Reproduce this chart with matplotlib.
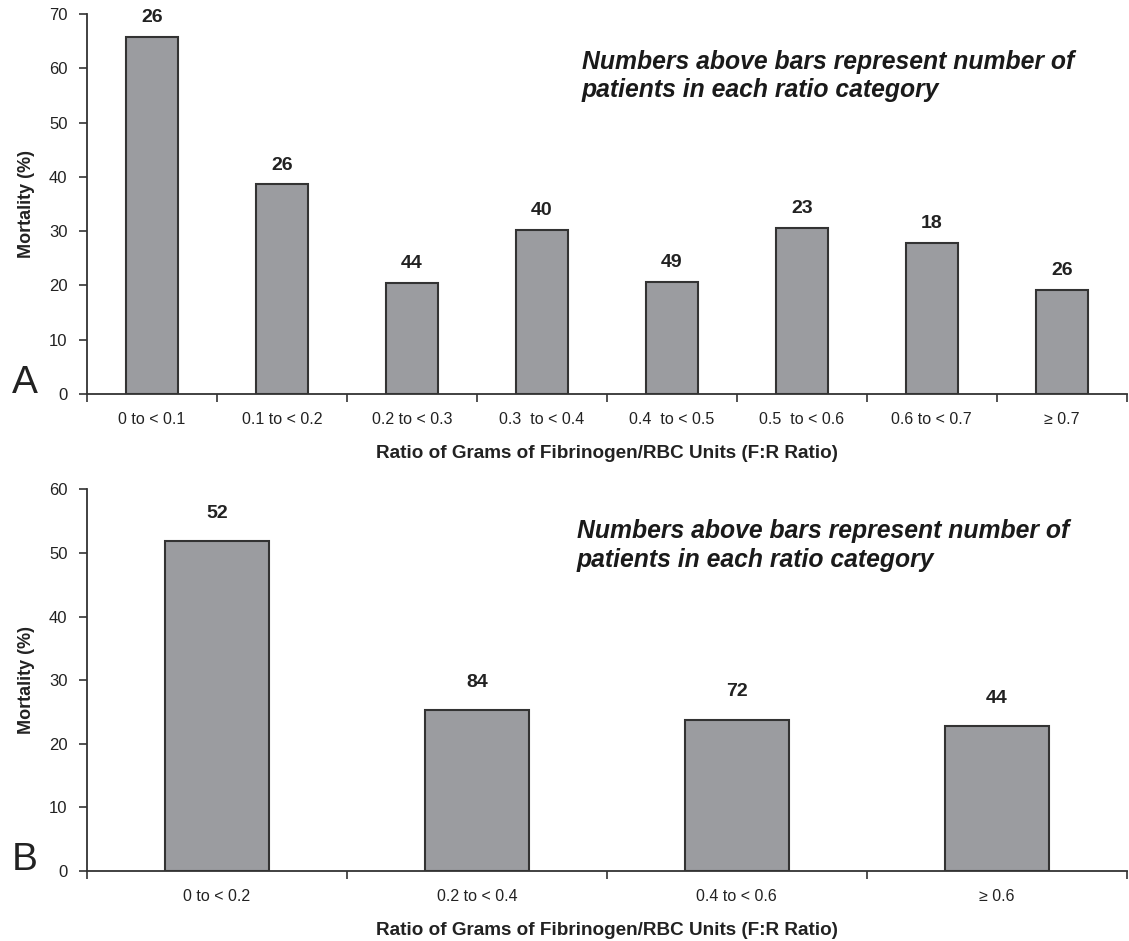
import matplotlib.pyplot as plt

plt.rcParams['font.family'] = ['Liberation Sans', 'DejaVu Sans']

# panel A: F:R ratio in steps of 0.1
labels_a = ['0 to < 0.1', '0.1 to < 0.2', '0.2 to < 0.3', '0.3  to < 0.4',
            '0.4  to < 0.5', '0.5  to < 0.6', '0.6 to < 0.7', '\u2265 0.7']
mortality_a = [65.7, 38.6, 20.5, 30.2, 20.6, 30.5, 27.9, 19.2]
patients_a = [26, 26, 44, 40, 49, 23, 18, 26]

# panel B: F:R ratio in steps of 0.2
labels_b = ['0 to < 0.2', '0.2 to < 0.4', '0.4 to < 0.6', '\u2265 0.6']
mortality_b = [51.9, 25.3, 23.8, 22.8]
patients_b = [52, 84, 72, 44]

bar_color = '#9b9ca0'
edge_color = '#333333'
note = 'Numbers above bars represent number of\npatients in each ratio category'
xlab = 'Ratio of Grams of Fibrinogen/RBC Units (F:R Ratio)'

fig = plt.figure(figsize=(11.29, 9.41), dpi=100)
ax_a = fig.add_axes([0.0771, 0.5813, 0.9209, 0.4038])
ax_b = fig.add_axes([0.0771, 0.0744, 0.9209, 0.4056])


def draw_panel(ax, labels, values, counts, ymax, letter, note_xy, label_off):
    x = list(range(len(labels)))
    ax.bar(x, values, width=0.4, color=bar_color, edgecolor=edge_color,
           linewidth=1.5)
    for xi, v, n in zip(x, values, counts):
        ax.annotate(str(n), (xi, v), xytext=(0, label_off),
                    textcoords='offset points', ha='center', va='center',
                    fontsize=14, fontweight='bold', color='#222222')
    ax.set_xlim(-0.5, len(labels) - 0.5)
    ax.set_ylim(0, ymax)
    ax.set_yticks(range(0, ymax + 1, 10))
    ax.set_xticks(x)
    ax.set_xticklabels(labels)
    ax.set_xticks([i - 0.5 for i in range(len(labels) + 1)], minor=True)
    ax.tick_params(axis='x', which='major', length=0, pad=13,
                   labelsize=11.5, colors='#222222')
    ax.tick_params(axis='x', which='minor', length=6, width=1.2,
                   color='#333333', direction='out')
    ax.tick_params(axis='y', length=6, width=1.2, color='#333333',
                   labelsize=12, labelcolor='#222222', pad=8)
    for s in ['top', 'right']:
        ax.spines[s].set_visible(False)
    for s in ['left', 'bottom']:
        ax.spines[s].set_color('#333333')
        ax.spines[s].set_linewidth(1.3)
    ax.set_ylabel('Mortality (%)', fontsize=13, fontweight='bold',
                  color='#222222', labelpad=10)
    ax.set_xlabel(xlab, fontsize=13.6, fontweight='bold', color='#222222',
                  labelpad=13)
    ax.text(note_xy[0], note_xy[1], note, transform=ax.transAxes,
            fontsize=17.8, fontweight='bold', fontstyle='italic',
            color='#1a1a1a', ha='left', va='center', linespacing=1.25)
    ax.text(-0.072, 0.03, letter, transform=ax.transAxes, fontsize=28,
            color='#222222', ha='left', va='center')


draw_panel(ax_a, labels_a, mortality_a, patients_a, 70, 'A',
           (0.476, 0.837), 14)
draw_panel(ax_b, labels_b, mortality_b, patients_b, 60, 'B',
           (0.471, 0.853), 20)

fig.savefig('out.png', dpi=100)
